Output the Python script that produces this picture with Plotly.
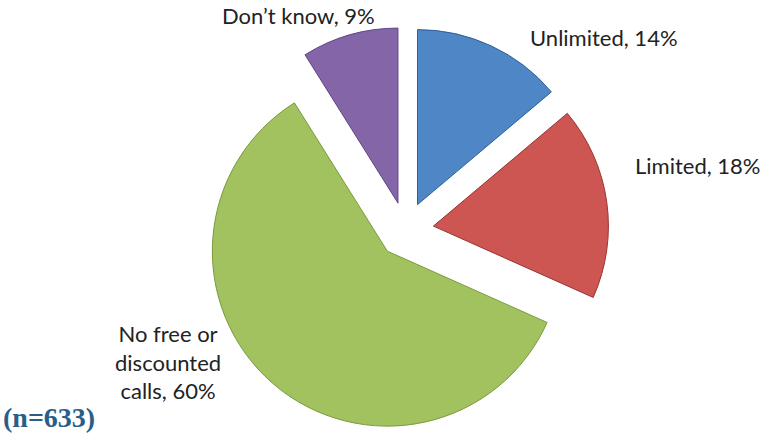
import plotly.graph_objects as go

# Data
categories = ["Unlimited", "Limited", "No free or discounted calls", "Don\u2019t know"]
label_lines = ["Unlimited", "Limited", "No free or<br>discounted<br>calls", "Don\u2019t know"]
values = [14, 18, 60, 9]
sample_note = "(n=633)"

colors = ["#4F86C6", "#CD5552", "#A2C25F", "#8466A8"]
edge_colors = ["#2F5F96", "#963633", "#7A9A3C", "#5E4585"]

fig = go.Figure()
fig.add_trace(go.Pie(
    labels=categories,
    values=values,
    sort=False,
    direction="clockwise",
    rotation=0,
    pull=[0.16, 0.16, 0.16, 0.16],
    marker=dict(colors=colors, line=dict(color=edge_colors, width=1)),
    textinfo="none",
    hoverinfo="label+value",
    showlegend=False,
    domain=dict(x=[202.7 / 764, 608.7 / 764], y=[1 - 433 / 434, 1 - 27 / 434]),
))

# Label anchors (pixel positions in the 764x434 page) and anchoring
label_pos = [(604, 37, "center"), (762, 165, "right"), (168, 362, "center"), (298, 16, "center")]
font = dict(family="Lato, Carlito, Calibri, sans-serif", size=22, color="#222222")
for txt, v, (px, py, xa) in zip(label_lines, values, label_pos):
    fig.add_annotation(
        text=f"{txt}, {v}%",
        x=px / 764, y=1 - py / 434, xref="paper", yref="paper",
        xanchor=xa, yanchor="middle", showarrow=False,
        font=font, align="center", borderpad=0,
    )

fig.add_annotation(
    text=f"<b>{sample_note}</b>",
    x=2 / 764, y=1 - 417 / 434, xref="paper", yref="paper",
    xanchor="left", yanchor="middle", showarrow=False, borderpad=0,
    font=dict(family="Liberation Serif, Times New Roman, serif", size=28, color="#2A5E8A"),
)

fig.update_layout(
    width=764, height=434,
    margin=dict(l=0, r=0, t=0, b=0),
    paper_bgcolor="white", plot_bgcolor="white",
)

fig.write_html(
    "out.html",
    config={"displayModeBar": False},
    post_script="document.body.style.margin='0px';document.body.style.overflow='hidden';",
)
